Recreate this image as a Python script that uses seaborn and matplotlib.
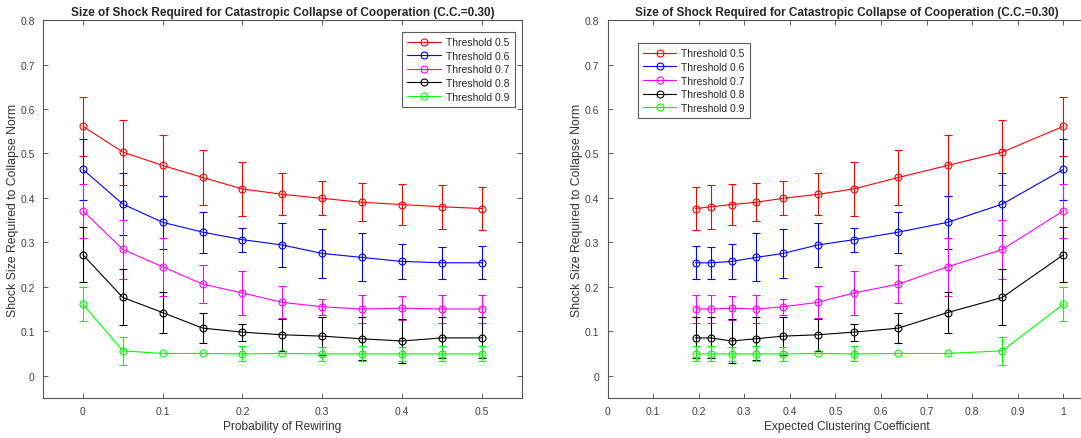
import matplotlib
matplotlib.use("Agg")
import matplotlib.pyplot as plt
from matplotlib.ticker import FuncFormatter
import pandas as pd
import seaborn as sns

# data
rewiring = [0, 0.05, 0.1, 0.15, 0.2, 0.25, 0.3, 0.35, 0.4, 0.45, 0.5]
clustering = [1.0, 0.866, 0.746, 0.638, 0.540, 0.461, 0.385, 0.325, 0.272, 0.227, 0.193]

labels = ["Threshold 0.5", "Threshold 0.6", "Threshold 0.7", "Threshold 0.8", "Threshold 0.9"]
colors = ["#ff0000", "#0000ff", "#ff00ff", "#000000", "#00ff00"]

shock_05 = [0.561, 0.503, 0.473, 0.446, 0.420, 0.408, 0.399, 0.390, 0.385, 0.380, 0.376]
err_05 = [0.066, 0.073, 0.068, 0.061, 0.061, 0.047, 0.038, 0.043, 0.046, 0.050, 0.049]
shock_06 = [0.464, 0.386, 0.345, 0.323, 0.306, 0.294, 0.275, 0.266, 0.257, 0.254, 0.254]
err_06 = [0.068, 0.069, 0.059, 0.046, 0.027, 0.050, 0.055, 0.054, 0.040, 0.036, 0.037]
shock_07 = [0.371, 0.284, 0.245, 0.206, 0.186, 0.165, 0.155, 0.150, 0.152, 0.150, 0.150]
err_07 = [0.061, 0.066, 0.065, 0.042, 0.050, 0.036, 0.018, 0.032, 0.027, 0.032, 0.032]
shock_08 = [0.272, 0.176, 0.142, 0.107, 0.098, 0.092, 0.089, 0.083, 0.078, 0.085, 0.085]
err_08 = [0.062, 0.063, 0.047, 0.034, 0.019, 0.036, 0.042, 0.048, 0.050, 0.046, 0.046]
shock_09 = [0.161, 0.056, 0.050, 0.050, 0.049, 0.050, 0.049, 0.049, 0.049, 0.049, 0.049]
err_09 = [0.039, 0.031, 0.0, 0.0, 0.017, 0.0, 0.015, 0.017, 0.015, 0.017, 0.017]

shocks = [shock_05, shock_06, shock_07, shock_08, shock_09]
errs = [err_05, err_06, err_07, err_08, err_09]

sns.set_theme(style="ticks")
plt.rcParams['font.family'] = ['Liberation Sans', 'DejaVu Sans']

fig = plt.figure(figsize=(10.81, 4.39), dpi=100)
ax1 = fig.add_axes([0.0398, 0.0913, 0.4428, 0.8607])
ax2 = fig.add_axes([0.562, 0.0913, 0.4428, 0.8607])

title = "Size of Shock Required for Catastropic Collapse of Cooperation (C.C.=0.30)"
fmt = FuncFormatter(lambda v, p: "%g" % round(v, 2))
axcol = "#404040"

for ax, xs, xlab in [(ax1, rewiring, "Probability of Rewiring"),
                     (ax2, clustering, "Expected Clustering Coefficient")]:
    for lab, col, y, e in zip(labels, colors, shocks, errs):
        df = pd.DataFrame({"x": xs, "y": y})
        ax.errorbar(df["x"], df["y"], yerr=e, fmt="none", ecolor=col,
                    elinewidth=0.8, capsize=3, capthick=0.8)
        sns.lineplot(data=df, x="x", y="y", ax=ax, color=col, label=lab,
                     marker="o", markersize=5, mfc="none", mec=col, mew=0.8,
                     linewidth=0.8, sort=False)
    ax.set_ylim(-0.05, 0.8)
    ax.set_yticks([0, 0.1, 0.2, 0.3, 0.4, 0.5, 0.6, 0.7, 0.8])
    ax.xaxis.set_major_formatter(fmt)
    ax.yaxis.set_major_formatter(fmt)
    ax.tick_params(direction="in", top=True, right=True, length=3.5, width=0.6,
                   color=axcol, labelcolor="#404040", labelsize=7.5, pad=6)
    for s in ax.spines.values():
        s.set_color("#555555")
        s.set_linewidth(0.8)
    ax.set_xlabel(xlab, fontsize=8.6, color="#333333", labelpad=3)
    ax.set_ylabel("Shock Size Required to Collapse Norm", fontsize=8.8,
                  color="#333333", labelpad=1)
    ax.set_title(title, fontsize=8.5, fontweight="bold", pad=4)

ax1.set_xlim(-0.05, 0.55)
ax1.set_xticks([0, 0.1, 0.2, 0.3, 0.4, 0.5])
ax2.set_xlim(0, 1.05)
ax2.set_xticks([0, 0.1, 0.2, 0.3, 0.4, 0.5, 0.6, 0.7, 0.8, 0.9, 1.0])

legkw = dict(fontsize=7.5, frameon=True, fancybox=False, edgecolor="#333333",
             handlelength=3.2, borderaxespad=0, labelspacing=0.35, borderpad=0.5,
             handletextpad=0.5)
l1 = ax1.legend(loc="upper right", bbox_to_anchor=(0.985, 0.9685), **legkw)
l2 = ax2.legend(loc="upper left", bbox_to_anchor=(0.063, 0.9386), **legkw)
for lg in (l1, l2):
    lg.get_frame().set_linewidth(0.8)

fig.savefig("out.png", dpi=100)
